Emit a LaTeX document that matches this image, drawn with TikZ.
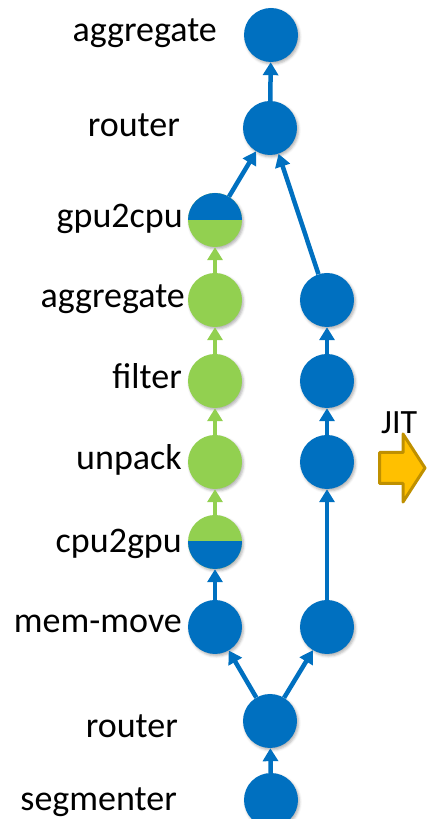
\documentclass[tikz,border=0pt]{standalone}
\usepackage{fontspec}
\setmainfont{Carlito}
\usetikzlibrary{arrows.meta,calc,shadows.blur}
\definecolor{opblue}{HTML}{0070C0}
\definecolor{opgreen}{HTML}{92D050}
\definecolor{jitfill}{HTML}{FFC000}
\definecolor{jitedge}{HTML}{BF9000}
\tikzset{
  op/.style={circle, minimum size=54pt, inner sep=0pt, draw=none,
    blur shadow={shadow xshift=1.5pt, shadow yshift=-2pt,
      shadow blur radius=2.5pt, shadow opacity=30}},
  bluenode/.style={op, fill=opblue},
  greennode/.style={op, fill=opgreen},
  lbl/.style={anchor=base east, inner sep=0pt, font=\fontsize{36}{40}\selectfont},
  flow/.style={line width=4.5pt, -{Triangle[width=15pt,length=13pt]}},
  blueflow/.style={flow, draw=opblue},
  greenflow/.style={flow, draw=opgreen},
}
\begin{document}
\begin{tikzpicture}[x=1pt,y=1pt]
\useasboundingbox (0,0) rectangle (428,819);

% operator nodes
\node[bluenode]  (agT) at (271,784) {};
\node[bluenode]  (rtT) at (270,691) {};
\node[greennode] (g2c) at (215,599) {};
\node[greennode] (agL) at (215,519) {};
\node[bluenode]  (agR) at (327,519) {};
\node[greennode] (fiL) at (215,438) {};
\node[bluenode]  (fiR) at (327,438) {};
\node[greennode] (unL) at (215,357) {};
\node[bluenode]  (unR) at (327,357) {};
\node[greennode] (c2g) at (215,277) {};
\node[bluenode]  (mmL) at (215,192) {};
\node[bluenode]  (mmR) at (327,192) {};
\node[bluenode]  (rtB) at (270,98) {};
\node[bluenode]  (seg) at (271,19) {};

% transfer nodes: upper half blue for gpu2cpu, lower half blue for cpu2gpu
\begin{scope}
  \clip ($(g2c)+(-30,0)$) rectangle ($(g2c)+(30,30)$);
  \fill[opblue] (g2c) circle (27);
\end{scope}
\begin{scope}
  \clip ($(c2g)+(-30,-30)$) rectangle ($(c2g)+(30,0)$);
  \fill[opblue] (c2g) circle (27);
\end{scope}

% labels (baseline placed)
\node[lbl] (tAgT) at (217,777) {aggregate};
\node[lbl] (tRtT) at (180,682) {router};
\node[lbl] (tG2c) at (183,591) {gpu2cpu};
\node[lbl] (tAgL) at (185,511) {aggregate};
\node[lbl] (tFiL) at (182,430) {filter};
\node[lbl] (tUnL) at (182,349) {unpack};
\node[lbl] (tC2g) at (182,266) {cpu2gpu};
\node[lbl] (tMmL) at (182,186) {mem-move};
\node[lbl] (tRtB) at (178,81) {router};
\node[lbl] (tSeg) at (177,9) {segmenter};

% connectors
\draw[blueflow] (seg) -- (rtB);
\draw[blueflow] (rtB) -- (mmL);
\draw[blueflow] (rtB) -- (mmR);
\draw[blueflow] (mmL) -- (c2g);
\draw[greenflow] (c2g) -- (unL);
\draw[greenflow] (unL) -- (fiL);
\draw[greenflow] (fiL) -- (agL);
\draw[greenflow] (agL) -- (g2c);
\draw[blueflow] (g2c) -- (rtT);
\draw[blueflow] (mmR) -- (unR);
\draw[blueflow] (unR) -- (fiR);
\draw[blueflow] (fiR) -- (agR);
\draw[blueflow] (agR) -- (rtT);
\draw[blueflow] (rtT) -- (agT);

% JIT block arrow
\node[anchor=base west, inner sep=0pt, font=\fontsize{34}{38}\selectfont] (jit) at (381,385) {JIT};
\filldraw[fill=jitfill, draw=jitedge, line width=3pt, line join=round]
  (379.5,366.5) -- (403,366.5) -- (403,385) -- (425,351) -- (403,317)
  -- (403,335.5) -- (379.5,335.5) -- cycle;
\end{tikzpicture}
\end{document}
